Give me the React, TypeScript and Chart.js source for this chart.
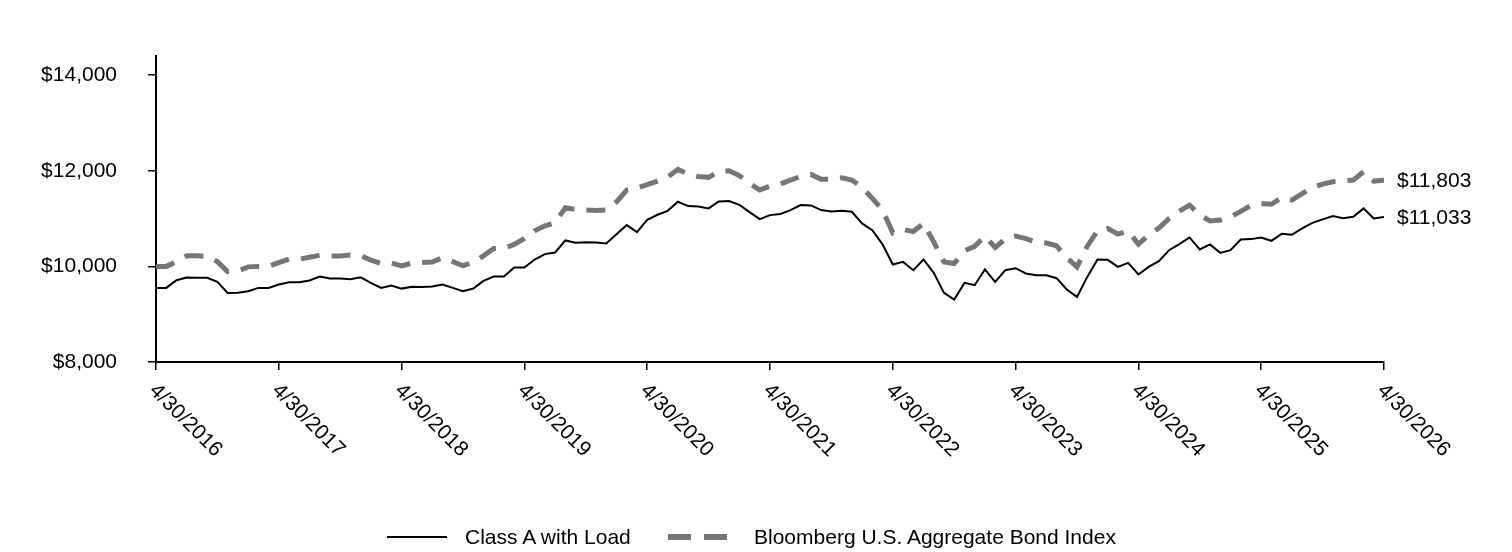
import React, { useEffect, useRef } from "react";
import { Chart, registerables } from "chart.js";

Chart.register(...registerables);

const FONT = "Arial, 'Liberation Sans', Helvetica, sans-serif";
const FONT_SIZE = 21;

const xTickLabels = [
  "4/30/2016", "4/30/2017", "4/30/2018", "4/30/2019", "4/30/2020", "4/30/2021",
  "4/30/2022", "4/30/2023", "4/30/2024", "4/30/2025", "4/30/2026",
];

const yTicks = [8000, 10000, 12000, 14000];

const seriesNames = ["Class A with Load", "Bloomberg U.S. Aggregate Bond Index"];

const classA = [
  9550, 9550, 9711, 9768, 9760, 9760, 9676, 9445, 9450, 9480, 9550, 9550,
  9620, 9669, 9669, 9705, 9788, 9746, 9746, 9730, 9770, 9655, 9550, 9600,
  9535, 9575, 9571, 9578, 9620, 9550, 9480, 9537, 9697, 9788, 9788, 9977,
  9977, 10144, 10256, 10290, 10542, 10493, 10507, 10500, 10479, 10674, 10863, 10716,
  10975, 11080, 11162, 11351, 11261, 11254, 11212, 11358, 11365, 11288, 11135, 10988,
  11072, 11093, 11177, 11282, 11275, 11177, 11149, 11163, 11142, 10898, 10758, 10460,
  10040, 10094, 9920, 10144, 9864, 9445, 9306, 9655, 9606, 9935, 9676, 9920,
  9962, 9851, 9815, 9815, 9753, 9516, 9361, 9780, 10144, 10137, 9990, 10073,
  9830, 9990, 10109, 10339, 10465, 10605, 10353, 10458, 10283, 10339, 10563, 10570,
  10605, 10535, 10681, 10660, 10793, 10911, 10982, 11051, 11009, 11037, 11212, 11002,
  11033,
];

const bondIndex = [
  10000, 10000, 10100, 10220, 10220, 10210, 10100, 9890, 9900, 9990, 10000, 10000,
  10080, 10150, 10150, 10190, 10230, 10220, 10215, 10240, 10230, 10130, 10060, 10070,
  10010, 10070, 10080, 10090, 10180, 10100, 10014, 10088, 10220, 10375, 10375, 10460,
  10584, 10743, 10850, 10911, 11225, 11190, 11177, 11170, 11180, 11350, 11596, 11640,
  11710, 11784, 11870, 12030, 11931, 11880, 11862, 11987, 12000, 11900, 11736, 11596,
  11680, 11722, 11805, 11880, 11924, 11820, 11820, 11853, 11805, 11650, 11422, 11180,
  10702, 10772, 10730, 10898, 10513, 10094, 10060, 10325, 10420, 10632, 10395, 10576,
  10632, 10580, 10506, 10488, 10430, 10178, 9990, 10423, 10743, 10793, 10674, 10740,
  10465, 10653, 10800, 11002, 11156, 11282, 11072, 10950, 10968, 11037, 11150, 11275,
  11317, 11300, 11442, 11386, 11520, 11652, 11722, 11770, 11786, 11805, 11980, 11784,
  11803,
];

const SOLID_COLOR = "#000000";
const DASH_COLOR = "#767676";

const fmt = (v: number) => "$" + v.toLocaleString("en-US");

export default function App() {
  const ref = useRef<HTMLCanvasElement>(null);

  useEffect(() => {
    if (!ref.current) return;
    const toXY = (arr: number[]) => arr.map((y, i) => ({ x: i, y }));

    const labelPlugin = {
      id: "customLabels",
      afterDraw(chart: any) {
        const { ctx, chartArea, scales } = chart;
        const xs = scales.x;
        ctx.save();
        ctx.fillStyle = "#000";
        ctx.font = `${FONT_SIZE}px ${FONT}`;
        ctx.textAlign = "left";
        ctx.textBaseline = "top";
        xTickLabels.forEach((lab, k) => {
          const px = xs.getPixelForValue(k * 12);
          ctx.save();
          ctx.translate(px + 4, chartArea.bottom + 18);
          ctx.rotate(Math.PI / 4);
          ctx.fillText(lab, 0, 0);
          ctx.restore();
        });
        ctx.textBaseline = "middle";
        chart.data.datasets.forEach((ds: any, di: number) => {
          const meta = chart.getDatasetMeta(di);
          const last = meta.data[meta.data.length - 1];
          const v = ds.data[ds.data.length - 1].y;
          ctx.fillText(fmt(v), chartArea.right + 13, last.y + 1);
        });
        ctx.restore();
      },
    };

    const axisGrid = {
      drawOnChartArea: false,
      drawTicks: true,
      tickLength: 8,
      color: "#000",
      lineWidth: 1.5,
    };
    const axisBorder = { display: true, color: "#000", width: 2 };

    const chart = new Chart(ref.current, {
      type: "line",
      data: {
        datasets: [
          {
            label: seriesNames[0],
            data: toXY(classA),
            borderColor: SOLID_COLOR,
            borderWidth: 2,
            pointRadius: 0,
            tension: 0,
            fill: false,
          },
          {
            label: seriesNames[1],
            data: toXY(bondIndex),
            borderColor: DASH_COLOR,
            borderWidth: 5,
            borderDash: [19, 12],
            borderCapStyle: "butt",
            pointRadius: 0,
            tension: 0,
            fill: false,
          },
        ],
      },
      options: {
        responsive: false,
        animation: false,
        layout: { padding: { top: 56, right: 128, bottom: 0, left: 0 } },
        plugins: { legend: { display: false }, tooltip: { enabled: false } },
        scales: {
          x: {
            type: "linear",
            min: 0,
            max: 120,
            afterBuildTicks: (s: any) => {
              s.ticks = xTickLabels.map((_, k) => ({ value: k * 12 }));
            },
            afterFit: (s: any) => {
              s.height = 552 - 362;
            },
            ticks: { display: false },
            grid: axisGrid,
            border: axisBorder,
          },
          y: {
            type: "linear",
            min: 8000,
            max: 14400,
            afterBuildTicks: (s: any) => {
              s.ticks = yTicks.map((v) => ({ value: v }));
            },
            afterFit: (s: any) => {
              s.width = 156;
            },
            ticks: {
              padding: 31,
              color: "#000",
              font: { family: FONT, size: FONT_SIZE },
              callback: (v: any) => fmt(Number(v)),
            },
            grid: axisGrid,
            border: axisBorder,
          },
        },
      } as any,
      plugins: [labelPlugin],
    });
    return () => chart.destroy();
  }, []);

  const textStyle: React.CSSProperties = {
    position: "absolute",
    top: 0,
    fontFamily: FONT,
    fontSize: FONT_SIZE,
    lineHeight: "24px",
    color: "#000",
    whiteSpace: "nowrap",
  };

  return (
    <div style={{ position: "absolute", left: 0, top: 0, width: 1512, height: 552, background: "#fff" }}>
      <canvas ref={ref} width={1512} height={552} style={{ position: "absolute", left: 0, top: 0 }} />
      <div style={{ position: "absolute", left: 0, top: 525, width: 1512, height: 24 }}>
        <div style={{ position: "absolute", left: 387, top: 11, width: 60, height: 2, background: SOLID_COLOR }} />
        <div style={{ ...textStyle, left: 465 }}>{seriesNames[0]}</div>
        <div style={{ position: "absolute", left: 668, top: 9, width: 23, height: 6, background: DASH_COLOR }} />
        <div style={{ position: "absolute", left: 704, top: 9, width: 23, height: 6, background: DASH_COLOR }} />
        <div style={{ ...textStyle, left: 754 }}>{seriesNames[1]}</div>
      </div>
    </div>
  );
}
